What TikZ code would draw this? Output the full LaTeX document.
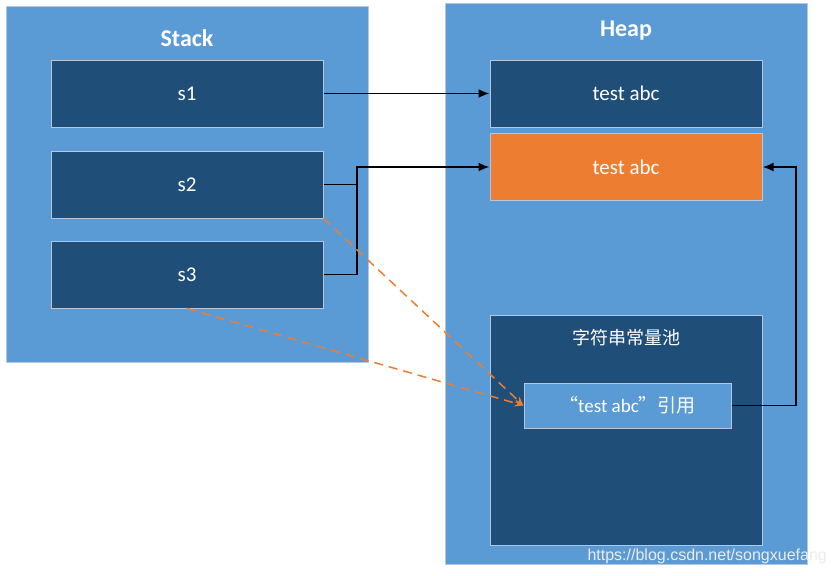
\documentclass[tikz,border=0pt]{standalone}
\usepackage{fontspec}
\setmainfont{Carlito}
\newfontfamily\cjk{Noto Sans CJK SC}
\newfontfamily\wmfont{Liberation Sans}
\usetikzlibrary{arrows.meta}

\definecolor{panelblue}{HTML}{5B9BD5}
\definecolor{boxblue}{HTML}{1F4E79}
\definecolor{boxorange}{HTML}{ED7D31}
\definecolor{edgegray}{HTML}{B4C7DC}

\tikzset{
  panel/.style={draw=edgegray, line width=1pt, fill=panelblue, minimum width=362pt, inner sep=0pt},
  cell/.style={draw=edgegray, line width=1pt, fill=boxblue, text=white, minimum width=272pt, minimum height=67pt,
    inner sep=0pt, font=\fontsize{21}{25}\selectfont},
  title/.style={text=white, font=\fontsize{24}{28}\selectfont\bfseries},
  link/.style={line width=1.8pt, -{Latex[length=11pt,width=9pt]}},
  strref/.style={draw=boxorange, line width=1.5pt, dash pattern=on 9pt off 6pt, -{Stealth[length=9pt,width=7pt]}}
}

\begin{document}
\begin{tikzpicture}[x=1pt, y=-1pt]
    \useasboundingbox[fill=white] (0,0) rectangle (831,576);

    % Panels
    \node[panel, minimum height=356pt] (stack) at (187,184) {};
    \node[panel, minimum height=561pt] (heap) at (626,283.5) {};
    \node[title] (stacktitle) at (187,38) {Stack};
    \node[title] (heaptitle) at (626,31) {Heap};

    % Stack variables
    \node[cell] (s1) at (187,93.5) {s1};
    \node[cell] (s2) at (187,184.5) {s2};
    \node[cell] (s3) at (187,274.5) {s3};

    % Heap objects
    \node[cell] (h1) at (626,93.5) {test abc};
    \node[cell, fill=boxorange] (h2) at (626,167) {test abc};

    % String pool
    \node[cell, minimum height=230pt] (pool) at (626,430) {};
    \node[text=white, font=\fontsize{18}{22}\selectfont\cjk] (pooltitle) at (626,338) {字符串常量池};
    \node[cell, fill=panelblue, minimum width=207pt, minimum height=45pt, font=\fontsize{19}{23}\selectfont]
        (ref) at (627.5,405.5) {{\cjk “}test abc{\cjk ”引用}};

    % Corner points
    \coordinate (join) at (357,167);
    \coordinate (back) at (796,167);

    % References
    \draw[link] (s1.east) -- (h1.west);
    \draw[line width=1.8pt] (s3.east) -| (join);
    \draw[link] (s2.east) -| (join) -- (h2.west);
    \draw[link] (ref.east) -| (back) -- (h2.east);

    % Pool references
    \draw[strref] (s2.south east) -- (ref.west);
    \draw[strref] (s3.south) -- (ref.west);

    % Watermark
    \node[anchor=west, text=white!85!gray, font=\fontsize{16}{19}\selectfont\wmfont] (mark) at (584,556)
        {https://blog.csdn.net/songxuefang};
\end{tikzpicture}
\end{document}
